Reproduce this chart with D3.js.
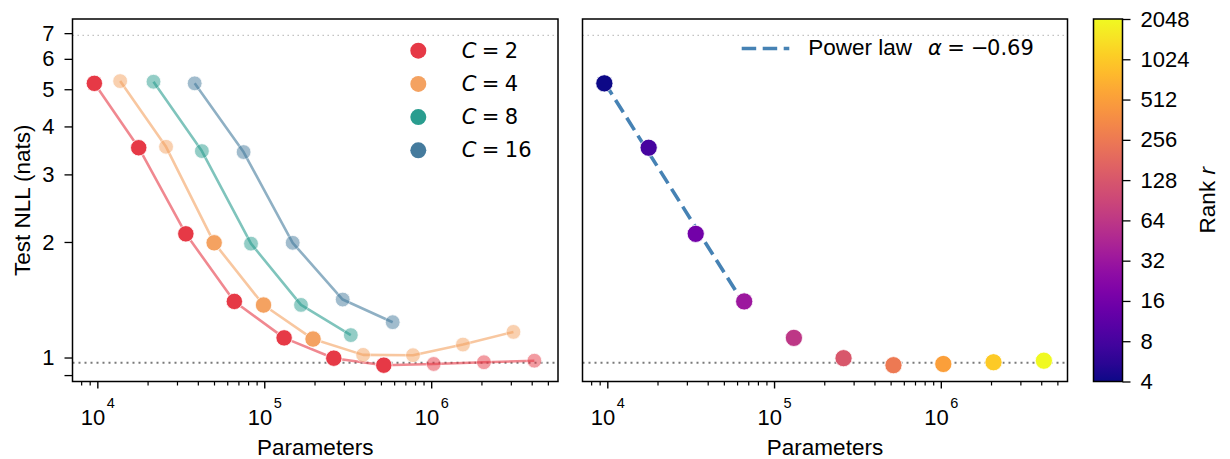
<!DOCTYPE html>
<html>
<head>
<meta charset="utf-8">
<script src="https://cdn.jsdelivr.net/npm/d3@7"></script>
<style>
  body { margin: 0; background: #fff; }
  svg { font-family: "Liberation Sans", Arial, sans-serif; }
  .math { font-family: "DejaVu Sans", sans-serif; }
</style>
</head>
<body>
<svg id="chart" width="1230" height="459"></svg>
<script>
const channels = [2, 4, 8, 16];
const seriesColors = ['#e63946', '#f4a261', '#2a9d8f', '#457b9d'];

const paramsC2 = [9600, 17700, 33900, 66200, 131500, 261000, 520000, 1035000, 2070000, 4150000];
const nllC2 = [5.18, 3.52, 2.10, 1.40, 1.125, 0.996, 0.955, 0.962, 0.972, 0.981];
const paramsC4 = [13700, 25800, 50100, 99000, 196000, 391000, 778000, 1550000, 3110000];
const nllC4 = [5.25, 3.54, 1.99, 1.37, 1.117, 1.016, 1.014, 1.081, 1.166];
const paramsC8 = [21700, 42300, 83300, 166000, 330000];
const nllC8 = [5.23, 3.45, 1.98, 1.371, 1.144];
const paramsC16 = [38300, 75200, 148000, 295000, 588000];
const nllC16 = [5.18, 3.43, 1.99, 1.416, 1.236];

const ranks = [4, 8, 16, 32, 64, 128, 256, 512, 1024, 2048];
const powerLawPoints = 4;

const yTicks = [0.9, 1, 2, 3, 4, 5, 6, 7];
const yLabelled = [1, 2, 3, 4, 5, 6, 7];
const xMajorTicks = [1e4, 1e5, 1e6];
const xMinorTicks = [8e3, 9e3, 2e4, 3e4, 4e4, 5e4, 6e4, 7e4, 8e4, 9e4,
  2e5, 3e5, 4e5, 5e5, 6e5, 7e5, 8e5, 9e5, 2e6, 3e6, 4e6, 5e6];

const chanceNLL = 6.91;
const floorNLL = 0.969;

const allParams = [paramsC2, paramsC4, paramsC8, paramsC16];
const allNll = [nllC2, nllC4, nllC8, nllC16];

const series = channels.map((c, i) => ({
  c,
  color: seriesColors[i],
  points: allParams[i].map((p, j) => ({ p, nll: allNll[i][j] }))
}));

// a point is drawn solid when it beats every point with fewer params
const flat = series.flatMap(s => s.points);
flat.forEach(d => {
  d.best = flat.every(o => o === d || o.p >= d.p || o.nll > d.nll);
});

const plotTop = 19, plotBottom = 381.5;
const panels = [
  { left: 72.5, right: 558 },
  { left: 582.5, right: 1067.5 }
];
const xDomain = [7100, 5.75e6];

const y = d3.scaleLog().domain([0.866, 7.62]).range([plotBottom, plotTop]);
const svg = d3.select('#chart');
const tickFont = 22, labelFont = 22.5, mathFont = 21;

function drawXAxis(x, cx) {
  svg.append('g')
    .attr('transform', `translate(0,${plotBottom})`)
    .call(d3.axisBottom(x).tickValues(xMinorTicks).tickSize(4).tickFormat(''))
    .call(g => g.select('.domain').remove())
    .call(g => g.selectAll('line').attr('stroke', '#000').attr('stroke-width', 1.2));

  const major = svg.append('g')
    .attr('transform', `translate(0,${plotBottom})`)
    .call(d3.axisBottom(x).tickValues(xMajorTicks).tickSize(7))
    .call(g => g.select('.domain').remove())
    .call(g => g.selectAll('line').attr('stroke', '#000').attr('stroke-width', 1.4));

  major.selectAll('.tick text')
    .text(null)
    .attr('y', 43.5)
    .attr('dy', 0)
    .attr('fill', '#000')
    .style('font-size', tickFont + 'px')
    .style('font-family', '"Liberation Sans", Arial, sans-serif')
    .call(t => {
      t.append('tspan').text('10');
      t.append('tspan').attr('dx', 1.5).attr('dy', -17).style('font-size', '14.5px').text(d => Math.round(Math.log10(d)));
    });

  svg.append('text')
    .attr('x', cx)
    .attr('y', 455)
    .attr('text-anchor', 'middle')
    .style('font-size', labelFont + 'px')
    .text('Parameters');
}

function drawRefLines(p) {
  svg.append('line')
    .attr('x1', p.left).attr('x2', p.right)
    .attr('y1', y(chanceNLL)).attr('y2', y(chanceNLL))
    .attr('stroke', '#bdbdbd').attr('stroke-width', 1.3)
    .attr('stroke-dasharray', '1.4,3.6');
  svg.append('line')
    .attr('x1', p.left).attr('x2', p.right)
    .attr('y1', y(floorNLL)).attr('y2', y(floorNLL))
    .attr('stroke', '#7a7a7a').attr('stroke-width', 2)
    .attr('stroke-dasharray', '2,4');
}

function drawFrame(p) {
  svg.append('rect')
    .attr('x', p.left).attr('y', plotTop)
    .attr('width', p.right - p.left).attr('height', plotBottom - plotTop)
    .attr('fill', 'none').attr('stroke', '#000').attr('stroke-width', 1.5);
}

// ---- left panel ----
const xL = d3.scaleLog().domain(xDomain).range([panels[0].left, panels[0].right]);
drawRefLines(panels[0]);

const line = d3.line().x(d => xL(d.p)).y(d => y(d.nll));
svg.selectAll('.series-line')
  .data(series)
  .enter().append('path')
  .attr('class', 'series-line')
  .attr('d', s => line(s.points))
  .attr('fill', 'none')
  .attr('stroke', s => s.color)
  .attr('stroke-opacity', 0.6)
  .attr('stroke-width', 2.6)
  .attr('stroke-linejoin', 'round');

const markers = series.flatMap(s => s.points.map(d => ({ ...d, color: s.color })));
svg.selectAll('.dot-faded')
  .data(markers.filter(d => !d.best))
  .enter().append('circle')
  .attr('cx', d => xL(d.p))
  .attr('cy', d => y(d.nll))
  .attr('r', 7.4)
  .attr('fill', d => d.color)
  .attr('opacity', 0.5)
  .attr('stroke', '#fff')
  .attr('stroke-width', 0.8);

svg.selectAll('.dot-best')
  .data(markers.filter(d => d.best))
  .enter().append('circle')
  .attr('cx', d => xL(d.p))
  .attr('cy', d => y(d.nll))
  .attr('r', 8.2)
  .attr('fill', d => d.color)
  .attr('stroke', '#fff')
  .attr('stroke-width', 0.8);

svg.append('g')
  .attr('transform', `translate(${panels[0].left},0)`)
  .call(d3.axisLeft(y).tickValues(yTicks).tickSize(8).tickPadding(10)
    .tickFormat(d => yLabelled.includes(d) ? d : ''))
  .call(g => g.select('.domain').remove())
  .call(g => g.selectAll('line').attr('stroke', '#000').attr('stroke-width', 1.3))
  .call(g => g.selectAll('text')
    .attr('fill', '#000')
    .style('font-size', tickFont + 'px')
    .style('font-family', '"Liberation Sans", Arial, sans-serif'));

svg.append('text')
  .attr('transform', `translate(30,${(plotTop + plotBottom) / 2}) rotate(-90)`)
  .attr('text-anchor', 'middle')
  .style('font-size', labelFont + 'px')
  .text('Test NLL (nats)');

drawXAxis(xL, (panels[0].left + panels[0].right) / 2);
drawFrame(panels[0]);

const legend = svg.append('g');
series.forEach((s, i) => {
  const ly = 50.7 + i * 33.2;
  legend.append('circle')
    .attr('cx', 418.3).attr('cy', ly).attr('r', 8)
    .attr('fill', s.color);
  const t = legend.append('text')
    .attr('class', 'math')
    .attr('x', 461.7).attr('y', ly + 7)
    .style('font-size', mathFont + 'px');
  t.append('tspan').style('font-style', 'italic').text('C');
  t.append('tspan').attr('dx', 5.4).text('=');
  t.append('tspan').attr('dx', 5.4).text(s.c);
});

// ---- right panel ----
const xR = d3.scaleLog().domain(xDomain).range([panels[1].left, panels[1].right]);
drawRefLines(panels[1]);

const rankColor = d3.scaleSequentialLog(d3.interpolatePlasma).domain([ranks[0], ranks[ranks.length - 1]]);
const rankPoints = series[0].points.map((d, i) => ({ ...d, rank: ranks[i] }));

// power-law fit in log space over the first points
const fitPts = rankPoints.slice(0, powerLawPoints);
const logX = fitPts.map(d => Math.log10(d.p));
const logY = fitPts.map(d => Math.log10(d.nll));
const mx = d3.mean(logX), my = d3.mean(logY);
const alpha = d3.sum(logX, (v, i) => (v - mx) * (logY[i] - my)) / d3.sum(logX, v => (v - mx) ** 2);
const intercept = my - alpha * mx;
const fitLine = fitPts.map(d => ({ p: d.p, nll: Math.pow(10, intercept + alpha * Math.log10(d.p)) }));

svg.append('path')
  .attr('d', d3.line().x(d => xR(d.p)).y(d => y(d.nll))(fitLine))
  .attr('fill', 'none')
  .attr('stroke', '#4682b4')
  .attr('stroke-width', 3.6)
  .attr('stroke-dasharray', '14.5,6.5');

svg.selectAll('.rank-dot')
  .data(rankPoints)
  .enter().append('circle')
  .attr('class', 'rank-dot')
  .attr('cx', d => xR(d.p))
  .attr('cy', d => y(d.nll))
  .attr('r', 8.6)
  .attr('fill', d => rankColor(d.rank))
  .attr('stroke', '#fff')
  .attr('stroke-width', 0.8);

drawXAxis(xR, (panels[1].left + panels[1].right) / 2);
drawFrame(panels[1]);

svg.append('line')
  .attr('x1', 741.7).attr('x2', 789.3)
  .attr('y1', 48.5).attr('y2', 48.5)
  .attr('stroke', '#4682b4').attr('stroke-width', 3.6)
  .attr('stroke-dasharray', '14.5,6.5');

svg.append('text')
  .attr('x', 808.3).attr('y', 55)
  .style('font-size', labelFont + 'px')
  .text('Power law');

const alphaLabel = svg.append('text')
  .attr('class', 'math')
  .attr('x', 928).attr('y', 55)
  .style('font-size', mathFont + 'px');
alphaLabel.append('tspan').style('font-style', 'italic').text('α');
alphaLabel.append('tspan').attr('dx', 5.5).text('=');
alphaLabel.append('tspan').attr('dx', 6).text('−');
alphaLabel.append('tspan').attr('dx', -1.5).text(Math.abs(alpha).toFixed(2));

// ---- colour bar ----
const cb = { left: 1093.5, right: 1122.5 };
const cbScale = d3.scaleLog().base(2).domain([ranks[0], ranks[ranks.length - 1]]).range([plotBottom, plotTop]);

const grad = svg.append('defs').append('linearGradient')
  .attr('id', 'plasma')
  .attr('x1', 0).attr('y1', 1).attr('x2', 0).attr('y2', 0);
d3.range(0, 1.0001, 0.05).forEach(t => {
  grad.append('stop')
    .attr('offset', t)
    .attr('stop-color', d3.interpolatePlasma(t));
});

svg.append('rect')
  .attr('x', cb.left).attr('y', plotTop)
  .attr('width', cb.right - cb.left).attr('height', plotBottom - plotTop)
  .attr('fill', 'url(#plasma)')
  .attr('stroke', '#000').attr('stroke-width', 1.5);

svg.append('g')
  .attr('transform', `translate(${cb.right},0)`)
  .call(d3.axisRight(cbScale).tickValues(ranks).tickSize(8).tickPadding(10).tickFormat(d => d))
  .call(g => g.select('.domain').remove())
  .call(g => g.selectAll('line').attr('stroke', '#000').attr('stroke-width', 1.3))
  .call(g => g.selectAll('text')
    .attr('fill', '#000')
    .style('font-size', tickFont + 'px')
    .style('font-family', '"Liberation Sans", Arial, sans-serif'));

const rankLabel = svg.append('text')
  .attr('transform', `translate(1215,${(plotTop + plotBottom) / 2}) rotate(-90)`)
  .attr('text-anchor', 'middle')
  .style('font-size', labelFont + 'px');
rankLabel.append('tspan').text('Rank ');
rankLabel.append('tspan').style('font-style', 'italic').text('r');
</script>
</body>
</html>
